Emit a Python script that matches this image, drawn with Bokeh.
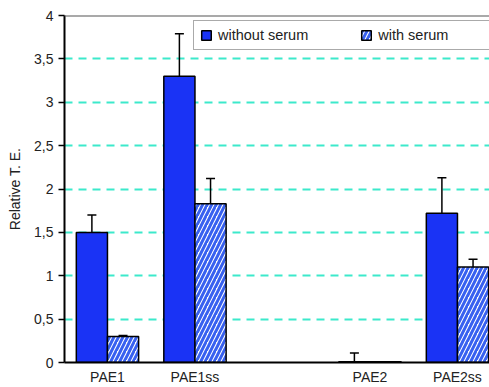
from bokeh.plotting import figure
from bokeh.models import (ColumnDataSource, Span, Whisker, TeeHead, Legend, LegendItem,
                          FixedTicker, Range1d)
from bokeh.embed import file_html
from bokeh.resources import INLINE

# ---- data ----
groups = ["PAE1", "PAE1ss", "PAE2", "PAE2ss"]
group_pos = [0, 1, 3, 4]
without_serum = [1.50, 3.30, 0.01, 1.72]
without_err = [0.20, 0.49, 0.10, 0.41]
with_serum = [0.30, 1.83, 0.01, 1.10]
with_err = [0.01, 0.29, 0.00, 0.09]
y_ticks = [0, 0.5, 1, 1.5, 2, 2.5, 3, 3.5, 4]
y_tick_labels = ["0", "0,5", "1", "1,5", "2", "2,5", "3", "3,5", "4"]

off = 0.178
bw = 0.356
BLUE = "#1a33f5"
HATCH_BLUE = "#3760f0"
GRID = "#3ce9cb"
FONT = "Liberation Sans"

src_wo = ColumnDataSource(dict(
    x=[g - off for g in group_pos], top=without_serum,
    upper=[v + e for v, e in zip(without_serum, without_err)]))
src_w = ColumnDataSource(dict(
    x=[g + off for g in group_pos], top=with_serum,
    upper=[v + e for v, e in zip(with_serum, with_err)]))

p = figure(width=489, height=387, output_backend="svg", toolbar_location=None,
           x_range=Range1d(-0.491, 4.366), y_range=Range1d(0, 4),
           min_border_left=64, min_border_right=0, min_border_top=15, min_border_bottom=23)
p.outline_line_color = None
p.background_fill_color = "white"
p.border_fill_color = "white"

# grid
p.xgrid.grid_line_color = None
p.ygrid.ticker = FixedTicker(ticks=[0.5, 1, 1.5, 2, 2.5, 3, 3.5])
p.ygrid.grid_line_color = GRID
p.ygrid.grid_line_width = 2
p.ygrid.grid_line_dash = "8 6"

# top line
p.add_layout(Span(location=4, dimension="width", line_color="#555555", line_width=2))

# error bars
for src in (src_wo, src_w):
    p.add_layout(Whisker(base="x", lower="top", upper="upper", source=src,
                         line_color="black", line_width=1.5,
                         upper_head=TeeHead(size=9, line_color="black", line_width=1.5),
                         lower_head=None))

r1 = p.vbar(x="x", top="top", width=bw, bottom=0, source=src_wo,
            fill_color=BLUE, line_color="black", line_width=1.5)
r2 = p.vbar(x="x", top="top", width=bw, bottom=0, source=src_w,
            fill_color="white", hatch_pattern="/", hatch_color=HATCH_BLUE,
            hatch_scale=9, hatch_weight=3, line_color="black", line_width=1.5)
r3 = p.vbar(x=[], top=[], width=bw, fill_alpha=0, line_alpha=0)

legend = Legend(items=[LegendItem(label="without serum", renderers=[r1]),
                       LegendItem(label="with serum", renderers=[r2]),
                       LegendItem(label="          ", renderers=[r3])],
                orientation="horizontal", location=(129, 312),
                glyph_width=12, glyph_height=12, label_standoff=6, spacing=52,
                padding=6, margin=0,
                label_text_font=FONT, label_text_font_size="14.5px", label_text_color="#222222",
                border_line_color="#555555", border_line_width=1.5,
                background_fill_color="white", background_fill_alpha=1)
p.add_layout(legend)

# axes
p.yaxis.ticker = FixedTicker(ticks=y_ticks)
p.yaxis.major_label_overrides = {t: l for t, l in zip(y_ticks, y_tick_labels)}
p.yaxis.axis_label = "Relative T. E."
p.yaxis.axis_label_text_font = FONT
p.yaxis.axis_label_text_font_style = "normal"
p.yaxis.axis_label_text_font_size = "14px"
p.yaxis.axis_label_text_color = "#222222"
p.yaxis.axis_label_standoff = 8
p.yaxis.major_label_text_font = FONT
p.yaxis.major_label_text_font_size = "14px"
p.yaxis.major_label_text_color = "#222222"
p.yaxis.major_tick_out = 6
p.yaxis.major_tick_in = 0
p.yaxis.major_tick_line_color = "black"
p.yaxis.major_tick_line_width = 1.5
p.yaxis.minor_tick_line_color = None
p.yaxis.axis_line_color = "black"
p.yaxis.axis_line_width = 2
p.yaxis.major_label_standoff = 5

p.xaxis.ticker = FixedTicker(ticks=group_pos)
p.xaxis.major_label_overrides = {g: n for g, n in zip(group_pos, groups)}
p.xaxis.major_label_text_font = FONT
p.xaxis.major_label_text_font_size = "14px"
p.xaxis.major_label_text_color = "#222222"
p.xaxis.major_tick_line_color = None
p.xaxis.minor_tick_line_color = None
p.xaxis.major_tick_out = 0
p.xaxis.major_tick_in = 0
p.xaxis.major_label_standoff = 6
p.xaxis.axis_line_color = "black"
p.xaxis.axis_line_width = 2

open("out.html", "w").write(file_html(p, INLINE))
